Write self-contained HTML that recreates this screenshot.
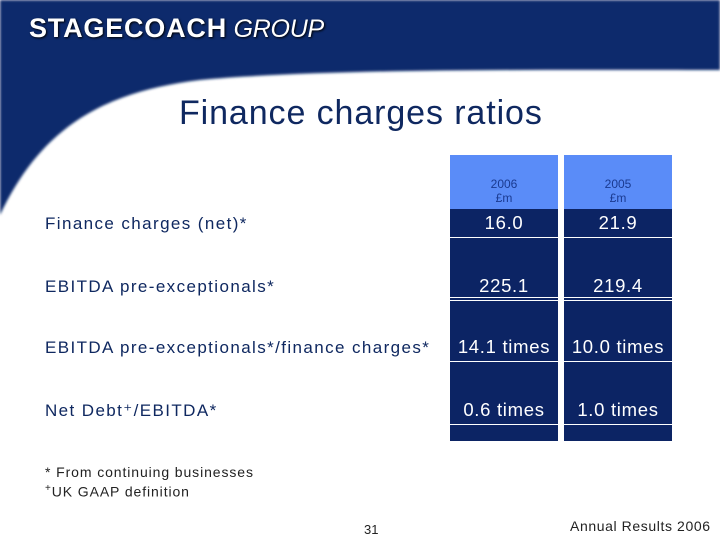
<!DOCTYPE html>
<html><head><meta charset="utf-8"><style>
body{margin:0;width:720px;height:540px;overflow:hidden;background:#fff;font-family:"Liberation Sans",sans-serif;position:relative}
.a{position:absolute;white-space:nowrap}
.lbl{color:#0f2860;font-size:17px;letter-spacing:1.4px}
.val{color:#fff;font-size:18.5px;text-align:center;width:108px;letter-spacing:0.7px}
</style></head><body>
<svg width="720" height="540" style="position:absolute;left:0;top:0">
<defs><filter id="b"><feGaussianBlur stdDeviation="1.2"/></filter></defs>
<path d="M0 0 H720 V70 C560 70 330 68 200 80 C100 92 40 130 0 215 Z" fill="#0d2a6c" filter="url(#b)"/>
</svg>
<div class="a" style="left:29px;top:13px;color:#fff;font-size:27px;font-weight:bold;letter-spacing:0.8px;text-shadow:1px 1px 2px #000">STAGECOACH<span style="font-weight:normal;font-style:italic;font-size:25px;letter-spacing:-0.3px"> GROUP</span></div>
<div class="a" style="left:179px;top:94px;color:#0f2860;font-size:34px;letter-spacing:0.9px">Finance charges ratios</div>
<div id="tbl"></div>
<div class="a" style="left:45px;top:464px;font-size:14px;color:#222;letter-spacing:0.9px">* From continuing businesses</div>
<div class="a" style="left:45px;top:483px;font-size:14px;color:#222;letter-spacing:0.9px"><sup style="font-size:10px">+</sup>UK GAAP definition</div>
<div class="a" style="left:364px;top:522px;font-size:13px;color:#222">31</div>
<div class="a" style="left:570px;top:518px;font-size:14px;color:#222;letter-spacing:0.6px">Annual Results 2006</div>
<script>
const rowLabels=["Finance charges (net)*","EBITDA pre-exceptionals*","EBITDA pre-exceptionals*/finance charges*","Net Debt\u207a/EBITDA*"];
const years=["2006","2005"];
const values2006=["16.0","225.1","14.1 times","0.6 times"];
const values2005=["21.9","219.4","10.0 times","1.0 times"];
const tbl=document.getElementById('tbl');
const colX=[450,564], rowY=[212,275,336,399], lines=[237,297,300,361,424];
function mk(cls,css,txt){const d=document.createElement('div');d.className='a '+cls;d.style.cssText=css;if(txt)d.textContent=txt;tbl.appendChild(d);return d;}
[values2006,values2005].forEach((vals,c)=>{
  const x=colX[c];
  const bg=mk('','left:'+x+'px;top:155px;width:108px;height:54px;background:#5a8cf8');
  
  
  const h=mk('','left:'+x+'px;top:177px;width:108px;text-align:center;color:#1a3a90;font-size:12px;line-height:14px');
  h.innerHTML=years[c]+'<br>£m';
  
  
  const body=mk('','left:'+x+'px;top:209px;width:108px;height:232px;background:#0c2464');
  
  
  lines.forEach(y=>{const l=mk('','left:'+x+'px;top:'+y+'px;width:108px;height:1px;background:#fff');
    
    });
  vals.forEach((v,r)=>{const e=mk('val','left:'+x+'px;top:'+rowY[r]+'px',v);
    
    });
});
rowLabels.forEach((t,r)=>{const e=mk('lbl','left:45px;top:'+(rowY[r]+2)+'px',t);
  
  });
</script>
</body></html>
